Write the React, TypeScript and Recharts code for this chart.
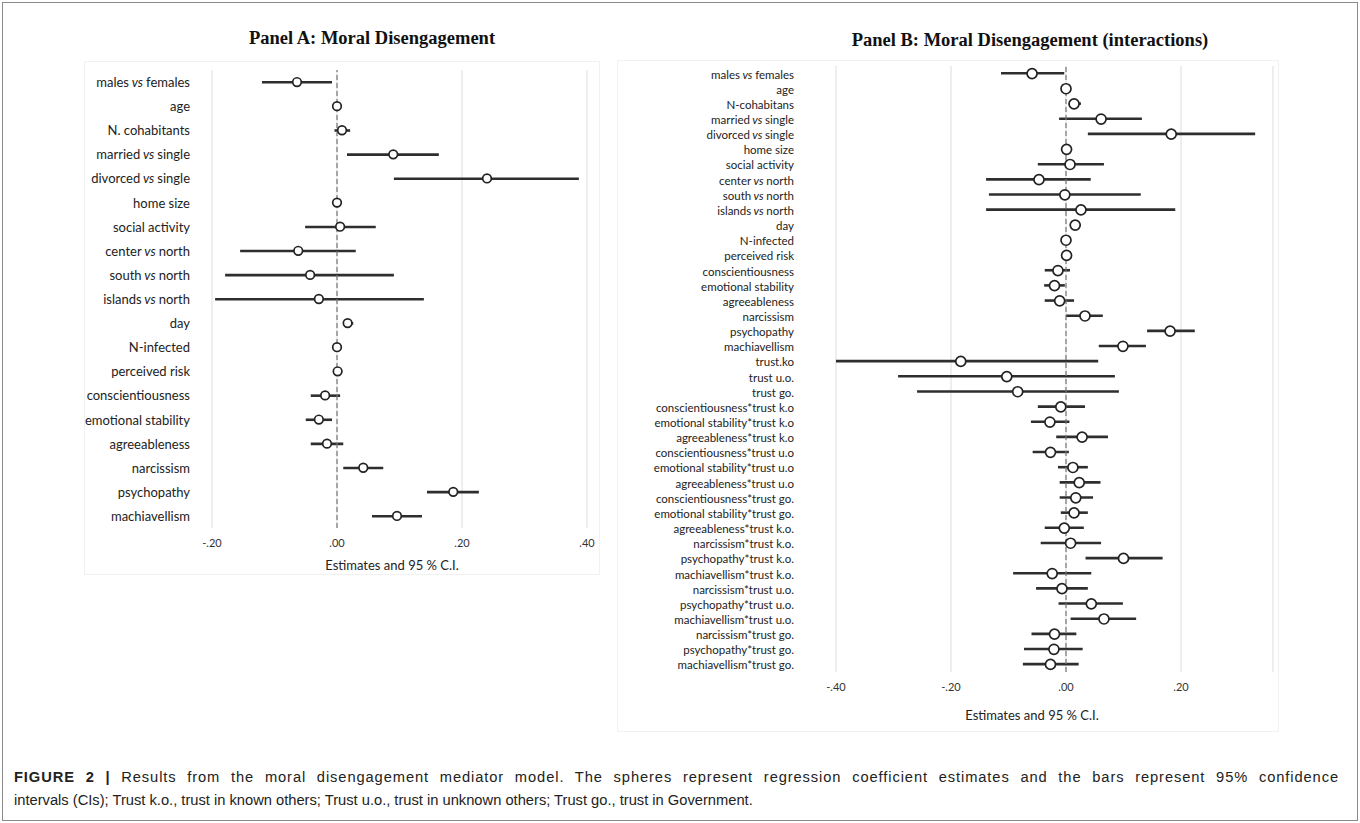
import React from "react";
import {
  ComposedChart,
  Bar,
  Line,
  XAxis,
  YAxis,
  CartesianGrid,
  ReferenceLine,
} from "recharts";

// Panel A: moral disengagement, main effects
const labelsA = [
  "males vs females",
  "age",
  "N. cohabitants",
  "married vs single",
  "divorced vs single",
  "home size",
  "social activity",
  "center vs north",
  "south vs north",
  "islands vs north",
  "day",
  "N-infected",
  "perceived risk",
  "conscientiousness",
  "emotional stability",
  "agreeableness",
  "narcissism",
  "psychopathy",
  "machiavellism",
];
const estA = [-0.064, 0, 0.008, 0.09, 0.24, 0, 0.005, -0.062, -0.043, -0.029, 0.017, 0, 0.001, -0.019, -0.029, -0.016, 0.042, 0.186, 0.096];
const loA = [-0.12, 0, -0.004, 0.016, 0.091, 0, -0.051, -0.155, -0.179, -0.195, 0.011, 0, 0, -0.042, -0.05, -0.042, 0.01, 0.144, 0.056];
const hiA = [-0.008, 0, 0.021, 0.163, 0.387, 0, 0.062, 0.03, 0.091, 0.139, 0.026, 0, 0, 0.005, -0.008, 0.01, 0.074, 0.227, 0.136];
const ticksA = [-0.2, 0, 0.2, 0.4];

// Panel B: moral disengagement with interactions
const labelsB = [
  "males vs females",
  "age",
  "N-cohabitans",
  "married vs single",
  "divorced vs single",
  "home size",
  "social activity",
  "center vs north",
  "south vs north",
  "islands vs north",
  "day",
  "N-infected",
  "perceived risk",
  "conscientiousness",
  "emotional stability",
  "agreeableness",
  "narcissism",
  "psychopathy",
  "machiavellism",
  "trust.ko",
  "trust u.o.",
  "trust go.",
  "conscientiousness*trust k.o",
  "emotional stability*trust k.o",
  "agreeableness*trust k.o",
  "conscientiousness*trust u.o",
  "emotional stability*trust u.o",
  "agreeableness*trust u.o",
  "conscientiousness*trust go.",
  "emotional stability*trust go.",
  "agreeableness*trust k.o.",
  "narcissism*trust k.o.",
  "psychopathy*trust k.o.",
  "machiavellism*trust k.o.",
  "narcissism*trust u.o.",
  "psychopathy*trust u.o.",
  "machiavellism*trust u.o.",
  "narcissism*trust go.",
  "psychopathy*trust go.",
  "machiavellism*trust go.",
];
const estB = [
  -0.059, 0, 0.014, 0.061, 0.183, 0.001, 0.007, -0.047, -0.002, 0.026,
  0.016, 0, 0.001, -0.014, -0.02, -0.011, 0.033, 0.181, 0.099, -0.183,
  -0.103, -0.084, -0.009, -0.028, 0.028, -0.027, 0.012, 0.023, 0.017, 0.014,
  -0.003, 0.008, 0.1, -0.024, -0.007, 0.044, 0.066, -0.02, -0.021, -0.027,
];
const loB = [
  -0.113, 0, 0.005, -0.012, 0.038, 0.001, -0.049, -0.139, -0.134, -0.139,
  0.016, 0, 0.001, -0.037, -0.038, -0.037, 0, 0.141, 0.057, -0.4,
  -0.292, -0.259, -0.049, -0.061, -0.017, -0.058, -0.014, -0.011, -0.011, -0.009,
  -0.037, -0.044, 0.034, -0.092, -0.052, -0.013, 0.008, -0.06, -0.073, -0.075,
];
const hiB = [
  -0.003, 0, 0.026, 0.132, 0.329, 0.001, 0.066, 0.043, 0.13, 0.19,
  0.016, 0, 0.001, 0.007, -0.002, 0.014, 0.064, 0.224, 0.139, 0.056,
  0.085, 0.092, 0.033, 0.006, 0.073, 0.005, 0.038, 0.06, 0.047, 0.038,
  0.031, 0.061, 0.168, 0.044, 0.038, 0.099, 0.122, 0.018, 0.029, 0.022,
];
const ticksB = [-0.4, -0.2, 0, 0.2];

const fmt = (v: number) =>
  v === 0 ? ".00" : (v < 0 ? "-" : "") + Math.abs(v).toFixed(2).replace(/^0/, "");

const LabelTick = (props: any) => {
  const { x, y, payload, size } = props;
  const parts = String(payload.value).split(/( vs )/);
  return (
    <text
      x={x}
      y={y}
      textAnchor="end"
      dominantBaseline="central"
      fontFamily="Lato, 'Open Sans', sans-serif"
      fontSize={size}
      fill="#222"
      style={{ whiteSpace: "pre" }}
    >
      {parts.map((p, i) =>
        p === " vs " ? (
          <tspan key={i} fontStyle="italic">{p}</tspan>
        ) : (
          <tspan key={i}>{p}</tspan>
        )
      )}
    </text>
  );
};

function ForestPanel(props: {
  labels: string[];
  est: number[];
  lo: number[];
  hi: number[];
  ticks: number[];
  domain: [number, number];
  width: number;
  height: number;
  margin: { top: number; right: number; bottom: number; left: number };
  yWidth: number;
  labelGap: number;
  labelSize: number;
  r: number;
}) {
  const data = props.labels.map((label, i) => ({
    label,
    est: props.est[i],
    ci: [props.lo[i], props.hi[i]],
  }));
  return (
    <ComposedChart
      layout="vertical"
      width={props.width}
      height={props.height}
      data={data}
      margin={props.margin}
    >
      <CartesianGrid horizontal={false} stroke="#e3e3e3" strokeWidth={1.2} />
      <XAxis
        type="number"
        domain={props.domain}
        ticks={props.ticks}
        allowDataOverflow
        axisLine={false}
        tickLine={false}
        tickSize={0}
        tickMargin={11}
        height={30}
        tickFormatter={fmt}
        tick={{ fill: "#333", fontSize: 11, fontFamily: "Lato, sans-serif" }}
      />
      <YAxis
        type="category"
        dataKey="label"
        width={props.yWidth}
        axisLine={false}
        tickLine={false}
        tickSize={0}
        tickMargin={props.labelGap}
        interval={0}
        tick={(p: any) => <LabelTick {...p} size={props.labelSize} />}
      />
      <ReferenceLine x={0} stroke="#777" strokeDasharray="5 3" strokeWidth={1.2} />
      <Bar dataKey="ci" barSize={2.6} fill="#2e2e2e" isAnimationActive={false} />
      <Line
        dataKey="est"
        stroke="none"
        isAnimationActive={false}
        dot={{ r: props.r, fill: "#fff", stroke: "#222", strokeWidth: 1.7 }}
        activeDot={false}
      />
    </ComposedChart>
  );
}

export default function App() {
  const abs = (s: React.CSSProperties): React.CSSProperties => ({ position: "absolute", ...s });
  const titleStyle: React.CSSProperties = {
    textAlign: "center",
    fontFamily: "'Liberation Serif', serif",
    fontWeight: "bold",
    fontSize: 18.5,
    lineHeight: "22px",
    color: "#111",
  };
  const axisTitle: React.CSSProperties = {
    width: 200,
    textAlign: "center",
    fontFamily: "Lato, sans-serif",
    fontSize: 13,
    lineHeight: "16px",
    color: "#222",
  };
  return (
    <div
      style={{
        position: "absolute",
        left: 0,
        top: 0,
        width: 1360,
        height: 823,
        background: "#fff",
        overflow: "hidden",
      }}
    >
      <div style={abs({ left: 2, top: 2, width: 1354, height: 817, border: "1px solid #8a8a8a" })} />
      <div style={abs({ left: 84, top: 61, width: 514, height: 512, border: "1px solid #f1f1f1" })} />
      <div style={abs({ left: 617, top: 60, width: 660, height: 670, border: "1px solid #f1f1f1" })} />

      <div style={abs({ left: 0, top: 27, width: 744, ...titleStyle })}>Panel A: Moral Disengagement</div>
      <div style={abs({ left: 700, top: 29, width: 660, ...titleStyle })}>
        Panel B: Moral Disengagement (interactions)
      </div>

      <div style={abs({ left: 0, top: 0 })}>
        <ForestPanel
          labels={labelsA}
          est={estA}
          lo={loA}
          hi={hiA}
          ticks={ticksA}
          domain={[-0.2, 0.4]}
          width={600}
          height={580}
          margin={{ top: 70, right: 13, bottom: 22, left: 12 }}
          yWidth={200}
          labelGap={22}
          labelSize={13}
          r={4.3}
        />
      </div>
      <div style={abs({ left: 600, top: 0 })}>
        <ForestPanel
          labels={labelsB}
          est={estB}
          lo={loB}
          hi={hiB}
          ticks={ticksB}
          domain={[-0.4, 0.36]}
          width={690}
          height={730}
          margin={{ top: 66, right: 17, bottom: 28, left: 10 }}
          yWidth={226}
          labelGap={42}
          labelSize={11.5}
          r={5}
        />
      </div>

      <div style={abs({ left: 292, top: 557, ...axisTitle })}>Estimates and 95 % C.I.</div>
      <div style={abs({ left: 932, top: 707, ...axisTitle })}>Estimates and 95 % C.I.</div>

      <div
        style={abs({
          left: 14,
          top: 766,
          width: 1325,
          fontFamily: "'Liberation Sans', Arial, sans-serif",
          fontSize: 14.7,
          lineHeight: "23px",
          color: "#222",
        })}
      >
        <div
          style={{
            whiteSpace: "nowrap",
            textAlign: "justify",
            textAlignLast: "justify",
            letterSpacing: "0.9px",
          }}
        >
          <b>FIGURE 2 |</b> Results from the moral disengagement mediator model. The spheres represent regression
          coefficient estimates and the bars represent 95% confidence
        </div>
        <div style={{ whiteSpace: "nowrap" }}>
          intervals (CIs); Trust k.o., trust in known others; Trust u.o., trust in unknown others; Trust go., trust in
          Government.
        </div>
      </div>
    </div>
  );
}
